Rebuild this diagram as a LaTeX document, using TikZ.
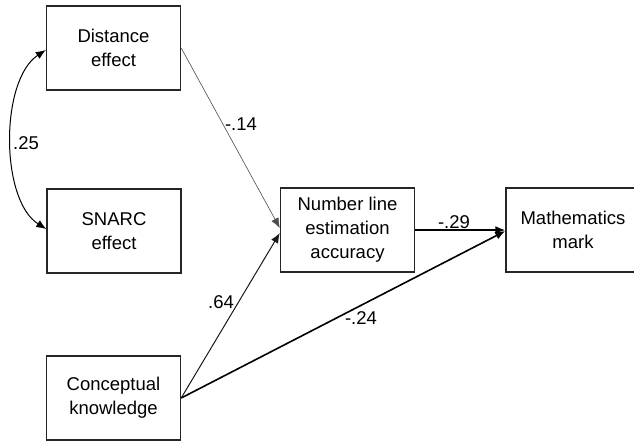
\documentclass[tikz,border=0pt]{standalone}
\usepackage{fontspec}
\setmainfont{Liberation Sans}
\usetikzlibrary{arrows.meta,calc}
\begin{document}
\begin{tikzpicture}[x=1pt,y=-1pt,
  boxnode/.style={draw=black!85,line width=1.4pt,rectangle,minimum width=134pt,minimum height=84pt,
    align=center,font=\fontsize{18.5}{24}\selectfont,inner sep=0pt},
  lbl/.style={font=\fontsize{18.5}{22}\selectfont,inner sep=0pt},
  arr/.style={-{Latex[length=10pt,width=8pt]},line width=1pt,draw=black!90},
  thinarr/.style={-{Latex[length=10pt,width=8pt]},line width=0.6pt,draw=black!70},
  thickarr/.style={-{Latex[length=10pt,width=8pt]},line width=1.6pt,draw=black}]
\useasboundingbox (0,0) rectangle (634,440);
\begin{scope}
\clip (0,0) rectangle (634,440);
\node[boxnode] (dist) at (113.5,48) {Distance\\effect};
\node[boxnode] (snarc) at (114,231) {SNARC\\effect};
\node[boxnode] (nl) at (347.5,230) {Number line\\estimation\\accuracy};
\node[boxnode] (math) at (573,230) {Mathematics\\mark};
\node[boxnode] (conc) at (113.5,398) {Conceptual\\knowledge};
\end{scope}
\draw[{Latex[length=10pt,width=8pt]}-{Latex[length=10pt,width=8pt]},line width=1pt]
  ($(dist.west)+(0,2)$) .. controls (0,80) and (0,200) .. ($(snarc.west)+(0,-2)$);
\node[lbl] (l25) at (26,143) {.25};
\draw[thinarr] (dist.east) -- ($(nl.west)+(0,-2)$);
\node[lbl] (l14) at (241,124) {-.14};
\draw[arr] (conc.east) -- ($(nl.west)+(0,3)$);
\node[lbl] (l64) at (221,302) {.64};
\draw[thickarr] (conc.east) -- ($(math.west)+(0,1)$);
\node[lbl] (l24) at (361,318) {-.24};
\draw[thickarr] (nl.east) -- (math.west);
\node[lbl] (l29) at (454,222) {-.29};
\end{tikzpicture}
\end{document}
